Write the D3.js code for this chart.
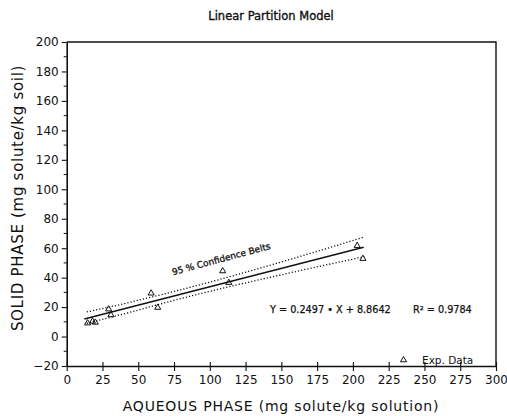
<!DOCTYPE html>
<html><head><meta charset="utf-8">
<script src="https://cdn.jsdelivr.net/npm/d3@7/dist/d3.min.js"></script>
<style>
body{margin:0;background:#fff;}
svg{display:block;font-family:"DejaVu Sans",Verdana,sans-serif;}
</style></head>
<body>
<svg id="chart" width="507" height="416"></svg>
<script>
// ---- data ----
const expX = [14.6, 18.0, 20.0, 29.3, 30.9, 59.0, 63.6, 109.0, 113.3, 203.0, 207.0];
const expY = [9.1, 10.3, 9.6, 18.6, 14.7, 29.4, 19.7, 44.5, 36.6, 61.7, 52.9];
const fitSlope = 0.2497;
const fitIntercept = 8.8642;
const fitRange = [12.3, 207.5];
const bandX = [14, 40, 79, 120, 160, 208];
const bandUpper = [16.7, 22.3, 31.6, 42.3, 53.5, 67.6];
const bandLower = [9.0, 15.4, 25.6, 35.3, 44.1, 54.2];
const xTicks = [0, 25, 50, 75, 100, 125, 150, 175, 200, 225, 250, 275, 300];
const yTicks = [-20, 0, 20, 40, 60, 80, 100, 120, 140, 160, 180, 200];
const yMinorTicks = [-10, 10, 30, 50, 70, 90, 110, 130, 150, 170, 190];
const titleText = "Linear Partition Model";
const xLabel = "AQUEOUS PHASE (mg solute/kg solution)";
const yLabel = "SOLID PHASE (mg solute/kg soil)";
const eqText = "Y = 0.2497 \u2022 X + 8.8642";
const r2Text = "R\u00B2 = 0.9784";
const bandLabel = "95 % Confidence Belts";
const legendLabel = "Exp. Data";

// ---- layout ----
const svg = d3.select("#chart");
const L = 66.7, R = 496, T = 42, B = 366;
const x = d3.scaleLinear().domain([0, 300]).range([L, R]);
const y = d3.scaleLinear().domain([-20, 200]).range([B, T]);
const ink = "#111";

// frame top/right
svg.append("path").attr("d", `M${L},${T}H${R}V${B}`).attr("fill","none").attr("stroke",ink).attr("stroke-width",1.4);

// x axis (ticks crossing)
const xa = svg.append("g").attr("transform",`translate(0,${B})`)
  .call(d3.axisBottom(x).tickValues(xTicks).tickSize(5).tickSizeOuter(0).tickPadding(4).tickFormat(d3.format("d")));
xa.select(".domain").attr("stroke",ink).attr("stroke-width",1.6);
xa.selectAll(".tick line").attr("y1",-4).attr("stroke",ink).attr("stroke-width",1.1);
xa.selectAll(".tick text").attr("font-size","12px").attr("font-family","DejaVu Sans").attr("fill",ink);

// y axis
const ya = svg.append("g").attr("transform",`translate(${L},0)`)
  .call(d3.axisLeft(y).tickValues(yTicks).tickSize(5).tickSizeOuter(0).tickPadding(3).tickFormat(d3.format("d")));
ya.select(".domain").attr("stroke",ink).attr("stroke-width",1.6);
ya.selectAll(".tick line").attr("stroke",ink).attr("stroke-width",1.1);
ya.selectAll(".tick text").attr("font-size","12px").attr("font-family","DejaVu Sans").attr("fill",ink);
svg.append("g").selectAll("line").data(yMinorTicks).join("line")
  .attr("x1",L-3).attr("x2",L).attr("y1",d=>y(d)).attr("y2",d=>y(d))
  .attr("stroke",ink).attr("stroke-width",1);

// confidence bands
const bandLine = arr => d3.line().x((d,i)=>x(bandX[i])).y(d=>y(d)).curve(d3.curveMonotoneX)(arr);
[bandUpper, bandLower].forEach(arr=>{
  svg.append("path").attr("d", bandLine(arr)).attr("fill","none")
    .attr("stroke",ink).attr("stroke-width",1.3).attr("stroke-dasharray","1.2,2");
});

// regression line
svg.append("line")
  .attr("x1",x(fitRange[0])).attr("y1",y(fitSlope*fitRange[0]+fitIntercept))
  .attr("x2",x(fitRange[1])).attr("y2",y(fitSlope*fitRange[1]+fitIntercept))
  .attr("stroke",ink).attr("stroke-width",1.5);

// triangles
const tri = d3.symbol().type(d3.symbolTriangle).size(16);
svg.append("g").selectAll("path").data(expX).join("path")
  .attr("d", tri)
  .attr("transform",(d,i)=>`translate(${x(d)},${y(expY[i])})`)
  .attr("fill","none").attr("stroke",ink).attr("stroke-width",1);

// title
svg.append("text").attr("x",271).attr("y",20).attr("text-anchor","middle")
  .attr("font-size","11.5px").attr("fill",ink).attr("stroke",ink).attr("stroke-width",0.35).text(titleText);

// axis labels
svg.append("text").attr("x",281).attr("y",411).attr("text-anchor","middle")
  .attr("font-size","14px").attr("letter-spacing","0.8px").attr("fill",ink).text(xLabel);
svg.append("text").attr("transform","translate(23,198) rotate(-90)").attr("text-anchor","middle")
  .attr("font-size","15px").attr("letter-spacing","0.7px").attr("fill",ink).text(yLabel);

// band label
svg.append("text").attr("transform",`translate(222,262) rotate(-15)`).attr("text-anchor","middle")
  .attr("font-size","9px").attr("fill",ink).attr("stroke",ink).attr("stroke-width",0.3).text(bandLabel);

// equation
svg.append("text").attr("x",270).attr("y",313).attr("font-size","9.7px").attr("fill",ink).attr("stroke",ink).attr("stroke-width",0.25).text(eqText);
svg.append("text").attr("x",413).attr("y",313).attr("font-size","9.7px").attr("fill",ink).attr("stroke",ink).attr("stroke-width",0.25).text(r2Text);

// legend
svg.append("path").attr("d", tri).attr("transform","translate(403.5,360)")
  .attr("fill","none").attr("stroke",ink).attr("stroke-width",1);
svg.append("text").attr("x",422).attr("y",363.5).attr("font-size","10.5px").attr("fill",ink).text(legendLabel);
</script>
</body></html>
